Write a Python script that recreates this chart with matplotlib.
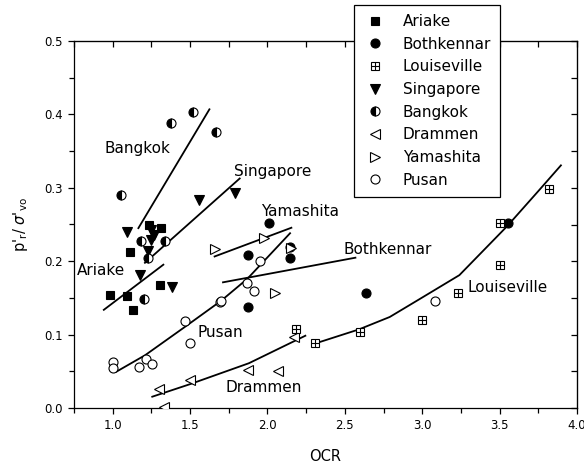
import numpy as np
import matplotlib
matplotlib.use('Agg')
from matplotlib import pyplot as plt
from matplotlib.lines import Line2D
from matplotlib.ticker import MultipleLocator
from matplotlib.legend_handler import HandlerTuple

# measured points, OCR vs normalised preconsolidation pressure
ariake_ocr = [1.236, 1.309, 1.110, 0.981, 1.090, 1.128, 1.304]
ariake_p   = [0.250, 0.245, 0.212, 0.154, 0.152, 0.134, 0.168]

bothkennar_ocr = [2.008, 1.876, 2.143, 2.144, 1.875, 2.638, 3.551]
bothkennar_p   = [0.252, 0.208, 0.219, 0.204, 0.137, 0.156, 0.252]

louiseville_ocr = [2.187, 2.305, 2.597, 3.000, 3.232, 3.503, 3.502, 3.818]
louiseville_p   = [0.107, 0.089, 0.104, 0.120, 0.156, 0.195, 0.252, 0.298]

singapore_ocr = [1.092, 1.248, 1.268, 1.245, 1.226, 1.177, 1.381, 1.555, 1.790]
singapore_p   = [0.240, 0.243, 0.236, 0.229, 0.2145, 0.181, 0.165, 0.284, 0.293]

bangkok_ocr = [1.518, 1.375, 1.666, 1.056, 1.183, 1.335, 1.204, 1.226]
bangkok_p   = [0.403, 0.388, 0.376, 0.2905, 0.227, 0.227, 0.1485, 0.204]

drammen_ocr = [1.300, 1.501, 1.876, 2.071, 2.169, 1.330]
drammen_p   = [0.026, 0.0375, 0.052, 0.051, 0.097, 0.001]

yamashita_ocr = [1.664, 1.980, 2.155, 2.048]
yamashita_p   = [0.217, 0.231, 0.218, 0.157]

pusan_ocr = [1.000, 1.000, 1.169, 1.216, 1.257, 1.469, 1.497, 1.692, 1.702,
             1.867, 1.914, 1.955, 3.080]
pusan_p   = [0.062, 0.054, 0.0556, 0.067, 0.0606, 0.118, 0.0886, 0.145, 0.146,
             0.170, 0.160, 0.200, 0.146]

# trend lines drawn through each data set
ariake_fit_ocr = [0.938, 1.332]
ariake_fit_p   = [0.133, 0.196]
bangkok_fit_ocr = [1.163, 1.628]
bangkok_fit_p   = [0.244, 0.408]
singapore_fit_ocr = [1.204, 1.825]
singapore_fit_p   = [0.197, 0.3135]
yamashita_fit_ocr = [1.653, 2.160]
yamashita_fit_p   = [0.206, 0.246]
bothkennar_fit_ocr = [1.707, 2.574]
bothkennar_fit_p   = [0.171, 0.205]
pusan_fit_ocr = [1.02, 1.21, 1.47, 1.70, 1.87, 2.15]
pusan_fit_p   = [0.049, 0.072, 0.111, 0.146, 0.176, 0.239]
drammen_fit_ocr = [1.25, 1.50, 1.88, 2.25]
drammen_fit_p   = [0.015, 0.0325, 0.061, 0.099]
louiseville_fit_ocr = [2.31, 2.59, 2.79, 2.98, 3.24, 3.55, 3.75, 3.90]
louiseville_fit_p   = [0.088, 0.107, 0.124, 0.148, 0.181, 0.248, 0.2955, 0.3315]

site_labels = ['Bangkok', 'Singapore', 'Ariake', 'Yamashita', 'Bothkennar',
               'Pusan', 'Drammen', 'Louiseville']
site_label_ocr = [0.947, 1.786, 0.769, 1.957, 2.493, 1.546, 1.728, 3.293]
site_label_p   = [0.353, 0.3225, 0.187, 0.268, 0.216, 0.103, 0.0285, 0.1635]

plt.rcParams['font.family'] = 'DejaVu Sans'
fig = plt.figure(figsize=(5.84, 4.69), dpi=100)
ax = fig.add_axes([74/584, 1 - 408/469, (577 - 74)/584, (408 - 41)/469])

ms = 6.5
mew = 0.8
k = 'black'

for xs, ys in [(ariake_fit_ocr, ariake_fit_p),
               (bangkok_fit_ocr, bangkok_fit_p),
               (singapore_fit_ocr, singapore_fit_p),
               (yamashita_fit_ocr, yamashita_fit_p),
               (bothkennar_fit_ocr, bothkennar_fit_p),
               (pusan_fit_ocr, pusan_fit_p),
               (drammen_fit_ocr, drammen_fit_p),
               (louiseville_fit_ocr, louiseville_fit_p)]:
    ax.plot(xs, ys, color=k, lw=1.3, solid_capstyle='butt', zorder=2)

styles = {
    'Ariake':      dict(marker='s', color=k, markerfacecolor=k, ms=ms - 0.5),
    'Bothkennar':  dict(marker='o', color=k, markerfacecolor=k, ms=ms),
    'Singapore':   dict(marker='v', color=k, markerfacecolor=k, ms=ms + 1),
    'Bangkok':     dict(marker='o', color=k, markerfacecolor=k, fillstyle='left',
                        markerfacecoloralt='white', ms=ms),
    'Drammen':     dict(marker='<', color=k, markerfacecolor='white', ms=ms + 1),
    'Yamashita':   dict(marker='>', color=k, markerfacecolor='white', ms=ms + 1),
    'Pusan':       dict(marker='o', color=k, markerfacecolor='white', ms=ms),
}
louis_box = dict(marker='s', color=k, markerfacecolor='white', ms=ms - 1)
louis_plus = dict(marker='+', color=k, ms=ms - 1)

series = [('Ariake', ariake_ocr, ariake_p),
          ('Bothkennar', bothkennar_ocr, bothkennar_p),
          ('Singapore', singapore_ocr, singapore_p),
          ('Bangkok', bangkok_ocr, bangkok_p),
          ('Drammen', drammen_ocr, drammen_p),
          ('Yamashita', yamashita_ocr, yamashita_p),
          ('Pusan', pusan_ocr, pusan_p)]

handles = {}
for name, xs, ys in series:
    ax.plot(xs, ys, linestyle='None', mew=mew, zorder=3, **styles[name])
    handles[name] = Line2D([], [], linestyle='None', mew=mew, **styles[name])

ax.plot(louiseville_ocr, louiseville_p, linestyle='None', mew=mew, zorder=3, **louis_box)
ax.plot(louiseville_ocr, louiseville_p, linestyle='None', mew=mew, zorder=4, **louis_plus)
handles['Louiseville'] = (Line2D([], [], linestyle='None', mew=mew, **louis_box),
                          Line2D([], [], linestyle='None', mew=mew, **louis_plus))

for lab, x, y in zip(site_labels, site_label_ocr, site_label_p):
    ax.text(x, y, lab, fontsize=11, ha='left', va='center')

ax.set_xlim(0.75, 4.0)
ax.set_ylim(0.0, 0.5)
ax.xaxis.set_major_locator(MultipleLocator(0.5))
ax.xaxis.set_minor_locator(MultipleLocator(0.25))
ax.yaxis.set_major_locator(MultipleLocator(0.1))
ax.yaxis.set_minor_locator(MultipleLocator(0.05))
ax.xaxis.set_major_formatter(matplotlib.ticker.FormatStrFormatter('%.1f'))
ax.yaxis.set_major_formatter(matplotlib.ticker.FormatStrFormatter('%.1f'))
ax.tick_params(which='both', direction='out', labelsize=8.5, width=0.9)
ax.tick_params(which='major', length=4.5)
ax.tick_params(which='minor', length=3.5)
for s in ax.spines.values():
    s.set_linewidth(0.9)

# mirrored ticks pointing inward on the top and right frame
top = ax.secondary_xaxis('top')
top.xaxis.set_major_locator(MultipleLocator(0.5))
top.xaxis.set_minor_locator(MultipleLocator(0.25))
top.tick_params(which='both', direction='in', labeltop=False, length=4, width=0.9)
right = ax.secondary_yaxis('right')
right.yaxis.set_major_locator(MultipleLocator(0.1))
right.yaxis.set_minor_locator(MultipleLocator(0.05))
right.tick_params(which='both', direction='in', labelright=False, length=4, width=0.9)

ax.set_xlabel('OCR', fontsize=10.5, labelpad=12)
ax.set_ylabel(r"p'$_{\rm r}$/ $\sigma$'$_{\rm vo}$", fontsize=10.5, labelpad=10)

order = ['Ariake', 'Bothkennar', 'Louiseville', 'Singapore', 'Bangkok',
         'Drammen', 'Yamashita', 'Pusan']
leg = fig.legend([handles[n] for n in order], order,
                 handler_map={tuple: HandlerTuple(ndivide=1)},
                 loc='upper left', bbox_to_anchor=(354/584, 1 - 5/469),
                 borderaxespad=0, fontsize=11, numpoints=1, handlelength=1.6,
                 handletextpad=1.0, labelspacing=0.5, borderpad=0.6,
                 fancybox=False, edgecolor='black', framealpha=1)
leg.get_frame().set_linewidth(0.9)

fig.savefig('out.png', dpi=100)
